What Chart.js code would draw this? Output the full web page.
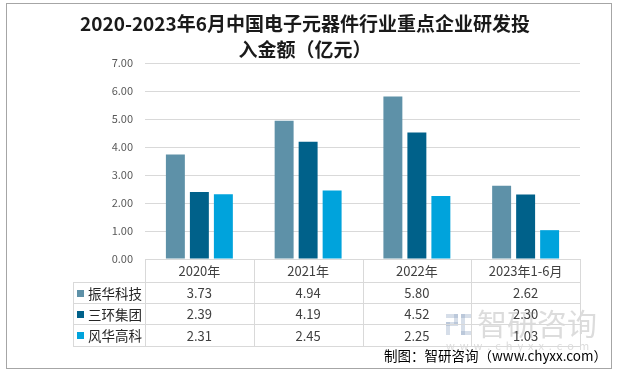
<!DOCTYPE html>
<html>
<head>
<meta charset="utf-8">
<script src="https://cdn.jsdelivr.net/npm/chart.js@4.4.0/dist/chart.umd.min.js"></script>
<style>
  html, body { margin: 0; padding: 0; background: #fff; }
</style>
</head>
<body>
<canvas id="chart" width="620" height="375"></canvas>
<script>
// data
const categories = ['2020年', '2021年', '2022年', '2023年1-6月'];
const seriesNames = ['振华科技', '三环集团', '风华高科'];
const zhenhua = [3.73, 4.94, 5.80, 2.62];
const sanhuan = [2.39, 4.19, 4.52, 2.30];
const fenghua = [2.31, 2.45, 2.25, 1.03];
const yMax = 7;
const yStep = 1;

const colors = ['#5e91a8', '#00618a', '#00a3dc'];
const FONT = '"Noto Sans CJK SC", "Microsoft YaHei", sans-serif';

// title, border, watermark, data table and source line
const decorPlugin = {
    id: 'decor',
    afterDraw(chart) {
        const ctx = chart.ctx;
        const area = chart.chartArea;
        const xs = chart.scales.x;
        const rows = [zhenhua, sanhuan, fenghua];

        ctx.save();

        // outer border
        ctx.strokeStyle = '#a6a6a6';
        ctx.lineWidth = 1;
        ctx.strokeRect(6.5, 3.5, 605, 365);

        // title
        ctx.fillStyle = '#1a1a1a';
        ctx.font = 'bold 19px ' + FONT;
        ctx.textAlign = 'center';
        ctx.textBaseline = 'middle';
        ctx.fillText('2020-2023年6月中国电子元器件行业重点企业研发投', 305, 24);
        ctx.fillText('入金额（亿元）', 305, 50);

        // watermark
        ctx.globalAlpha = 0.35;
        ctx.fillStyle = '#8aa0c0';
        ctx.fillRect(446, 314, 12, 4);
        ctx.fillRect(454, 314, 4, 10);
        ctx.fillRect(446, 322, 12, 4);
        ctx.fillRect(446, 322, 4, 13);
        ctx.fillRect(461, 314, 11, 4);
        ctx.fillRect(461, 314, 4, 21);
        ctx.fillRect(461, 331, 11, 4);
        ctx.fillStyle = '#9a9a9a';
        ctx.font = '30px ' + FONT;
        ctx.textAlign = 'left';
        ctx.fillText('智研咨询', 477, 324);
        ctx.font = '11px ' + FONT;
        ctx.fillText('w  w  w  .  c  h  y  x  x  .  c  o  m', 446, 346);
        ctx.globalAlpha = 1;

        // table geometry
        const left = area.left, right = area.right;
        const top = area.bottom;
        const lines = [top, 282, 303, 324, 346];
        const labelLeft = 73;
        const colW = (right - left) / categories.length;

        ctx.strokeStyle = '#d9d9d9';
        ctx.lineWidth = 1;
        ctx.beginPath();
        lines.forEach((y, i) => {
            const yy = Math.round(y) + 0.5;
            ctx.moveTo(i === 0 ? left : labelLeft, yy);
            ctx.lineTo(right, yy);
        });
        ctx.moveTo(labelLeft + 0.5, lines[1]);
        ctx.lineTo(labelLeft + 0.5, lines[4]);
        for (let i = 0; i <= categories.length; i++) {
            const x = Math.round(left + colW * i) + 0.5;
            ctx.moveTo(x, top);
            ctx.lineTo(x, lines[4]);
        }
        ctx.stroke();

        // header row
        ctx.fillStyle = '#404040';
        ctx.font = '13px ' + FONT;
        ctx.textAlign = 'center';
        ctx.textBaseline = 'middle';
        categories.forEach((c, i) => {
            ctx.fillText(c, xs.getPixelForValue(i), (lines[0] + lines[1]) / 2 + 1);
        });

        // series rows
        rows.forEach((vals, r) => {
            const cy = (lines[r + 1] + lines[r + 2]) / 2 + 1;
            ctx.fillStyle = colors[r];
            ctx.fillRect(77, Math.round(cy) - 4, 7, 7);
            ctx.fillStyle = '#262626';
            ctx.textAlign = 'left';
            ctx.font = '13.5px ' + FONT;
            ctx.fillText(seriesNames[r], 88, cy);
            ctx.fillStyle = '#404040';
            ctx.textAlign = 'center';
            ctx.font = '13px ' + FONT;
            vals.forEach((v, i) => {
                ctx.fillText(v.toFixed(2), xs.getPixelForValue(i), cy);
            });
        });

        // source
        ctx.fillStyle = '#000';
        ctx.textAlign = 'right';
        ctx.font = '13.5px ' + FONT;
        ctx.fillText('制图：智研咨询（www.chyxx.com）', 607, 356);

        ctx.restore();
    }
};

new Chart(document.getElementById('chart'), {
    type: 'bar',
    data: {
        labels: categories,
        datasets: [
            { label: seriesNames[0], data: zhenhua, backgroundColor: colors[0] },
            { label: seriesNames[1], data: sanhuan, backgroundColor: colors[1] },
            { label: seriesNames[2], data: fenghua, backgroundColor: colors[2] }
        ]
    },
    options: {
        responsive: false,
        animation: false,
        layout: { padding: { left: 0, right: 40, top: 63, bottom: 116 } },
        datasets: {
            bar: { categoryPercentage: 0.662, barPercentage: 0.79 }
        },
        scales: {
            x: { display: false },
            y: {
                min: 0,
                max: yMax,
                afterFit(scale) { scale.width = 145; },
                border: { display: false },
                grid: { color: '#d9d9d9', drawTicks: false },
                ticks: {
                    stepSize: yStep,
                    padding: 12,
                    color: '#595959',
                    font: { size: 11, family: FONT },
                    callback: v => v.toFixed(2)
                }
            }
        },
        plugins: {
            legend: { display: false },
            tooltip: { enabled: false }
        }
    },
    plugins: [decorPlugin]
});
</script>
</body>
</html>
